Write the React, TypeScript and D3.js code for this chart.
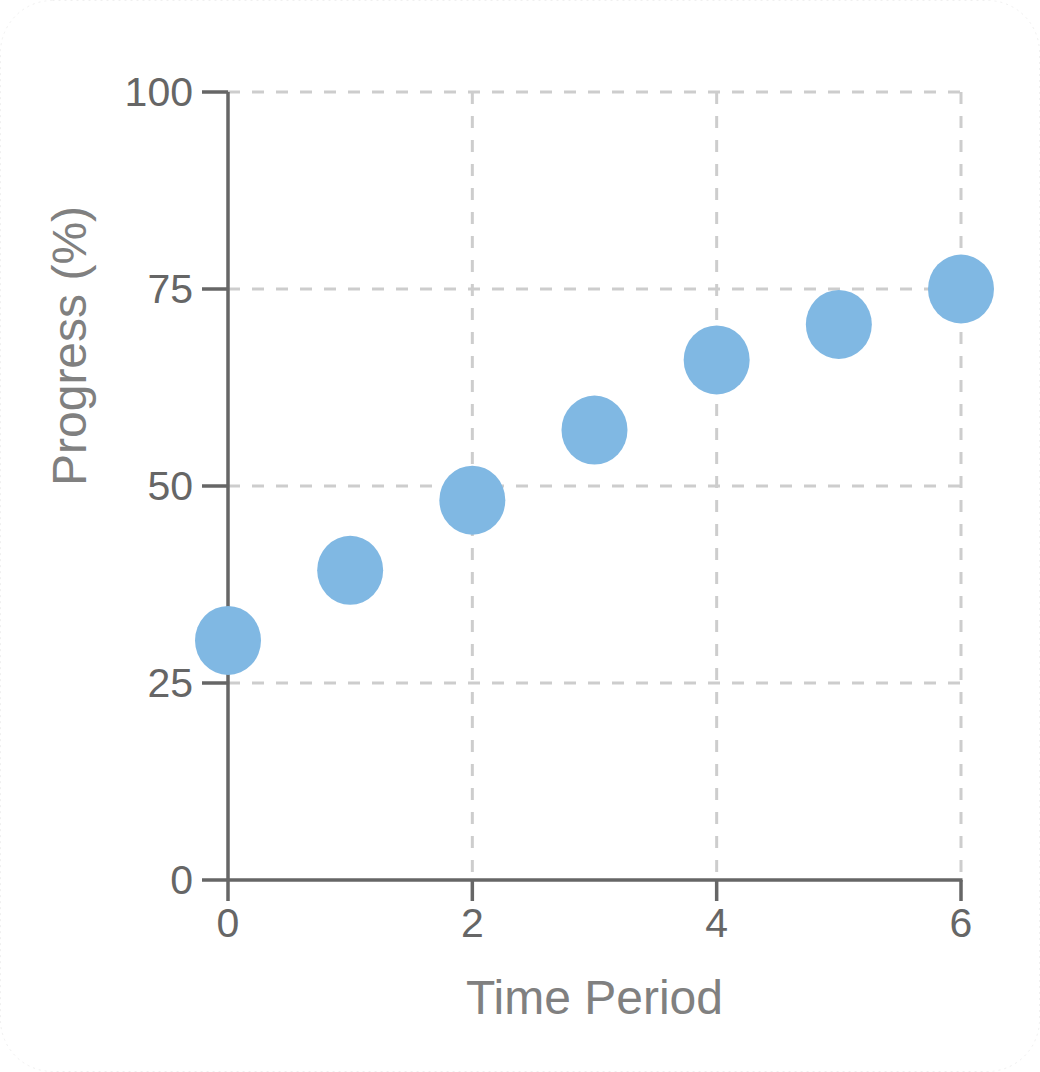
import React from "react";
import * as d3 from "d3";

const periods = [0, 1, 2, 3, 4, 5, 6];
const progress = [30.4, 39.3, 48.2, 57.1, 66.0, 70.5, 75.0];
const xTicks = [0, 2, 4, 6];
const yTicks = [0, 25, 50, 75, 100];

const W = 1040;
const H = 1072;
const left = 228;
const right = 961;
const top = 92;
const bottom = 880;

export default function App() {
  const x = d3.scaleLinear().domain([0, 6]).range([left, right]);
  const y = d3.scaleLinear().domain([0, 100]).range([bottom, top]);
  const font = "'Liberation Sans', Arial, Helvetica, sans-serif";
  return (
    <svg
      width={W}
      height={H}
      style={{ position: "absolute", left: 0, top: 0, background: "#fff" }}
      fontFamily={font}
    >
      <rect x={0.5} y={0.5} width={W - 1} height={H - 1} rx={52} ry={52} fill="#fff" stroke="#f0f0f0" strokeWidth={1} strokeDasharray="2,4" />
      {/* grid */}
      <g stroke="#cdcdcd" strokeWidth={3} strokeDasharray="12,12">
        {yTicks.filter((t) => t > 0).map((t) => (
          <line key={"gy" + t} x1={left} x2={right} y1={y(t)} y2={y(t)} />
        ))}
        {xTicks.filter((t) => t > 0).map((t) => (
          <line key={"gx" + t} x1={x(t)} x2={x(t)} y1={top} y2={bottom} />
        ))}
      </g>
      {/* axes */}
      <g stroke="#666" strokeWidth={3.5} fill="none">
        <line x1={left} x2={left} y1={top} y2={bottom} />
        <line x1={left} x2={right + 1.5} y1={bottom} y2={bottom} />
        {yTicks.map((t) => (
          <line key={"ty" + t} x1={left - 26} x2={left} y1={y(t)} y2={y(t)} />
        ))}
        {xTicks.map((t) => (
          <line key={"tx" + t} x1={x(t)} x2={x(t)} y1={bottom} y2={bottom + 21} />
        ))}
      </g>
      {/* tick labels */}
      <g fill="#666" fontSize={41}>
        {yTicks.map((t) => (
          <text key={"ly" + t} x={left - 35} y={y(t)} dy="0.35em" textAnchor="end">
            {t}
          </text>
        ))}
        {xTicks.map((t) => (
          <text key={"lx" + t} x={x(t)} y={bottom + 57} textAnchor="middle">
            {t}
          </text>
        ))}
      </g>
      {/* titles */}
      <text x={(left + right) / 2} y={1014} textAnchor="middle" fill="#808080" fontSize={48}>
        Time Period
      </text>
      <text
        transform={`translate(86, ${(top + bottom) / 2}) rotate(-90)`}
        textAnchor="start"
        fill="#808080"
        fontSize={48}
      >
        Progress (%)
      </text>
      {/* points */}
      <g fill="#80b8e3">
        {periods.map((p, i) => (
          <ellipse key={"pt" + p} cx={x(p)} cy={y(progress[i])} rx={33} ry={34.5} />
        ))}
      </g>
    </svg>
  );
}
